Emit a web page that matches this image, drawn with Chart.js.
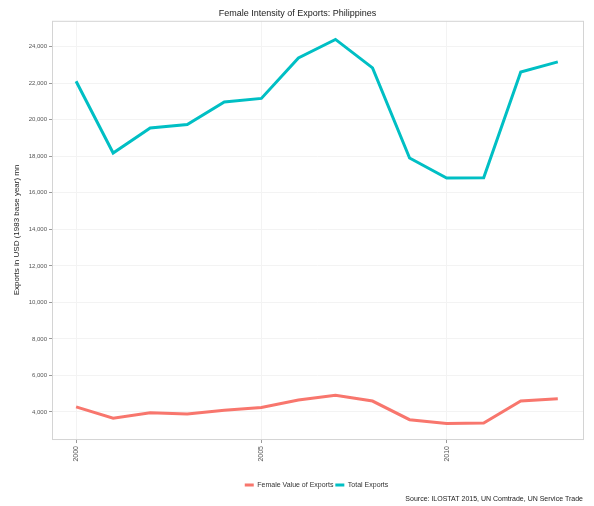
<!DOCTYPE html>
<html><head><meta charset="utf-8">
<script src="https://cdn.jsdelivr.net/npm/chart.js@4"></script>
<style>html,body{margin:0;padding:0;background:#fff}#w{width:594px;height:506px}</style>
</head><body><div id="w"><canvas id="c" width="594" height="506"></canvas></div>
<script>
const years = [2000,2001,2002,2003,2004,2005,2006,2007,2008,2009,2010,2011,2012,2013];
const femaleValue = [4280,3660,3960,3890,4095,4245,4660,4910,4600,3580,3375,3395,4600,4720];
const totalExports = [22110,18180,19550,19740,20980,21170,23390,24400,22840,17910,16810,16830,22620,23170];
const yTicks = [4000,6000,8000,10000,12000,14000,16000,18000,20000,22000,24000];
const xTicks = [2000,2005,2010];
const seriesNames = ["Female Value of Exports","Total Exports"];

const pts = arr => years.map((y,i)=>({x:y,y:arr[i]}));
const border = {
  id:'border',
  afterDraw(ch){
    const a=ch.chartArea,c=ch.ctx;
    c.save();c.strokeStyle='#d4d4d4';c.lineWidth=1;
    c.strokeRect(a.left+0.5,a.top+0.5,a.right-a.left,a.bottom-a.top);
    c.restore();
  }
};
new Chart(document.getElementById('c'),{
  type:'line',
  data:{datasets:[
    {label:seriesNames[0],data:pts(femaleValue),borderColor:'#F8766D',backgroundColor:'#F8766D',borderWidth:3,pointRadius:0,tension:0},
    {label:seriesNames[1],data:pts(totalExports),borderColor:'#00BFC4',backgroundColor:'#00BFC4',borderWidth:3,pointRadius:0,tension:0}
  ]},
  options:{
    responsive:false,animation:false,
    layout:{padding:{left:12,right:11,top:0,bottom:1}},
    plugins:{
      title:{display:true,text:'Female Intensity of Exports: Philippines',color:'#222',font:{family:'Liberation Sans',size:9,weight:'normal'},padding:{top:8,bottom:2}},
      subtitle:{display:true,position:'bottom',align:'end',text:'Source: ILOSTAT 2015, UN Comtrade, UN Service Trade',color:'#222',font:{family:'Liberation Sans',size:7},padding:{top:-4,bottom:2}},
      legend:{position:'bottom',fullSize:false,labels:{boxWidth:9,boxHeight:3,padding:0,color:'#333',font:{family:'Liberation Sans',size:7},useBorderRadius:false,
        generateLabels(ch){return Chart.defaults.plugins.legend.labels.generateLabels(ch).map(l=>(l.text=l.text+' ',l.lineWidth=0,l));}}},
      tooltip:{enabled:false}
    },
    scales:{
      x:{type:'linear',min:1999.35,max:2013.68,
        afterBuildTicks(s){s.ticks=xTicks.map(v=>({value:v}));},
        afterFit(s){s.height+=17;},
        ticks:{minRotation:90,maxRotation:90,color:'#555',font:{family:'Liberation Sans',size:7},padding:3,callback:v=>String(v)},
        grid:{color:'#f3f3f3',drawTicks:true,tickLength:4,tickColor:'#999'},border:{display:false}},
      y:{min:2520,max:25420,
        afterBuildTicks(s){s.ticks=yTicks.map(v=>({value:v}));},
        afterFit(s){s.width=40;},
        ticks:{color:'#555',font:{family:'Liberation Sans',size:6},padding:2,callback:v=>v.toLocaleString('en-US')},
        title:{display:true,text:'Exports in USD (1983 base year) mn',color:'#222',font:{family:'Liberation Sans',size:8},padding:{top:0,bottom:2}},
        grid:{color:'#f3f3f3',drawTicks:true,tickLength:3,tickColor:'#999'},border:{display:false}}
    }
  },
  plugins:[border]
});
</script></body></html>
